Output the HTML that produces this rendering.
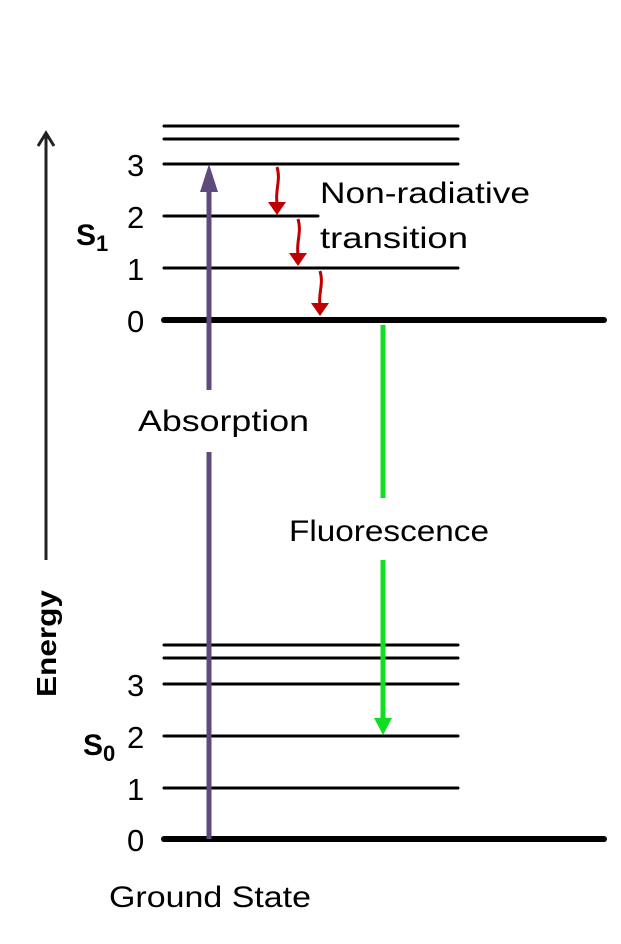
<!DOCTYPE html>
<html><head><style>html,body{margin:0;padding:0;background:#fff}</style></head><body>
<svg width="621" height="939" xmlns="http://www.w3.org/2000/svg" font-family="Liberation Sans, sans-serif">
<g stroke="#000" stroke-linecap="round">
<line x1="164" y1="126" x2="458" y2="126" stroke-width="3"/>
<line x1="164" y1="139" x2="458" y2="139" stroke-width="3"/>
<line x1="164" y1="164" x2="458" y2="164" stroke-width="3"/>
<line x1="164" y1="216" x2="318" y2="216" stroke-width="3"/>
<line x1="164" y1="268" x2="458" y2="268" stroke-width="3"/>
<line x1="164" y1="320" x2="604" y2="320" stroke-width="6"/>
<line x1="164" y1="645" x2="458" y2="645" stroke-width="3"/>
<line x1="164" y1="658" x2="458" y2="658" stroke-width="3"/>
<line x1="164" y1="684" x2="458" y2="684" stroke-width="3"/>
<line x1="164" y1="736" x2="458" y2="736" stroke-width="3"/>
<line x1="164" y1="788" x2="458" y2="788" stroke-width="3"/>
<line x1="164" y1="839" x2="604" y2="839" stroke-width="6"/>
</g>
<line x1="46" y1="560" x2="46" y2="134" stroke="#222" stroke-width="3"/>
<polyline points="38,146 46,133 54,146" fill="none" stroke="#222" stroke-width="3"/>
<text transform="translate(56,697) rotate(-90)" font-size="28" font-weight="bold" textLength="107" lengthAdjust="spacingAndGlyphs">Energy</text>
<line x1="209" y1="839" x2="209" y2="452" stroke="#5f4a7c" stroke-width="5"/>
<line x1="209" y1="390" x2="209" y2="190" stroke="#5f4a7c" stroke-width="5"/>
<polygon points="200,192 218,192 209,164" fill="#5f4a7c"/>
<line x1="383" y1="325" x2="383" y2="498" stroke="#11dd22" stroke-width="5"/>
<line x1="383" y1="560" x2="383" y2="722" stroke="#11dd22" stroke-width="5"/>
<polygon points="374,718 392,718 383,735" fill="#11dd22"/>
<g stroke="#c00000" stroke-width="3" fill="none">
<path d="M277,167 C281,180 275,190 277,203"/>
<path d="M298,219 C302,232 296,242 298,255"/>
<path d="M320,271 C324,284 318,294 320,305"/>
</g>
<g fill="#c00000">
<polygon points="268,202 286,202 277,215"/>
<polygon points="289,253 307,253 298,266"/>
<polygon points="311,303 329,303 320,316"/>
</g>
<g font-size="31">
<text x="127" y="176">3</text><text x="127" y="228">2</text><text x="127" y="280">1</text><text x="127" y="332">0</text>
<text x="127" y="696">3</text><text x="127" y="748">2</text><text x="127" y="800">1</text><text x="127" y="851">0</text>
</g>
<text x="76" y="245" font-size="30" font-weight="bold">S<tspan font-size="22" dy="6">1</tspan></text>
<text x="83" y="755" font-size="30" font-weight="bold">S<tspan font-size="22" dy="6">0</tspan></text>
<g font-size="30">
<text x="320" y="203" textLength="210" lengthAdjust="spacingAndGlyphs">Non-radiative</text>
<text x="320" y="248" textLength="148" lengthAdjust="spacingAndGlyphs">transition</text>
<text x="138" y="431" textLength="171" lengthAdjust="spacingAndGlyphs">Absorption</text>
<text x="289" y="541" textLength="200" lengthAdjust="spacingAndGlyphs">Fluorescence</text>
<text x="109" y="907" textLength="202" lengthAdjust="spacingAndGlyphs">Ground State</text>
</g>
</svg>
</body></html>
